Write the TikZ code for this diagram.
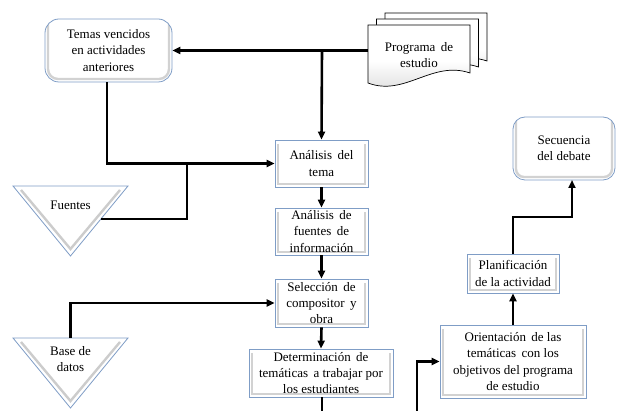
\documentclass[tikz,border=0pt]{standalone}
\usepackage{fontspec}
\setmainfont{Liberation Serif}
\usetikzlibrary{arrows.meta}
\definecolor{bord}{HTML}{7F9DC6}
\tikzset{
  bev/.style={path picture={\draw[gray!35,line width=2.4pt,rounded corners=#1]
      ([shift={(3pt,-4pt)}]path picture bounding box.north west) --
      ([shift={(3pt,3pt)}]path picture bounding box.south west) --
      ([shift={(-3pt,3pt)}]path picture bounding box.south east) --
      ([shift={(-3pt,-4pt)}]path picture bounding box.north east);}},
  bev/.default=0pt,
  box/.style={draw=bord, line width=0.8pt, fill=white, align=center, inner sep=0pt,
      font=\fontsize{13}{16.3}\selectfont, bev},
  rbox/.style={box, rounded corners=14pt, bev=10pt},
  txt/.style={align=center, inner sep=0pt, font=\fontsize{13}{16.3}\selectfont},
  conn/.style={line width=2.6pt, line join=miter, -{Triangle[length=8pt,width=7pt]}},
  plain/.style={line width=2.6pt, line join=miter},
  docshape/.style={draw=black, line width=0.7pt, top color=white, bottom color=gray!30, middle color=white},
  tri/.style={draw=bord, line width=0.8pt, fill=white},
  trib/.style={draw=gray!40, line width=2.4pt}
}
\begin{document}
\begin{tikzpicture}[x=1pt,y=-1pt]
\useasboundingbox (0,0) rectangle (619,411);

% Program documents (stacked)
\foreach \dx/\dy in {17/-12, 8.5/-6, 0/0}{
  \begin{scope}[shift={(\dx,\dy)}]
    \path[docshape] (368,25) -- (470,25) -- (470,73)
      .. controls (432,60) and (405,97) .. (368,83) -- cycle;
  \end{scope}
}
\node[txt] (prog) at (419,55) {Programa\, de\\estudio};
\coordinate (pl) at (368,50.5);

% Temas vencidos
\node[rbox, minimum width=127pt, minimum height=63pt] (temas) at (108.5,50.5)
  {Temas vencidos\\en actividades\\anteriores};

% main column
\node[box, minimum width=93pt, minimum height=47pt] (a1) at (321.5,163.5) {Análisis\, del\\tema};
\node[box, minimum width=93pt, minimum height=47pt] (a2) at (321.5,231.5) {Análisis\, de\\fuentes\, de\\información};
\node[box, minimum width=93pt, minimum height=48pt] (a3) at (321.5,303) {Selección\, de\\compositor\, y\\obra};
\node[box, minimum width=144pt, minimum height=48pt] (a4) at (321,373) {Determinación\, de\\temáticas\, a trabajar por\\los estudiantes};

% right column
\node[box, minimum width=146pt, minimum height=73pt] (or) at (513,361.5)
  {Orientación\, de las\\temáticas\, con los\\objetivos del programa\\de estudio};
\node[box, minimum width=92pt, minimum height=39pt] (pla) at (513,273.5) {Planificación\\de la actividad};
\node[rbox, rounded corners=12pt, bev=8pt, minimum width=102pt, minimum height=63pt] (sec) at (564,148.5)
  {Secuencia\\del debate};

% Triangles
\coordinate (f1) at (13,186); \coordinate (f2) at (128,186); \coordinate (f3) at (70.5,256);
\path[tri] (f1) -- (f2) -- (f3) -- cycle;
\draw[trib] (21,190) -- (70.5,249) -- (120,190);
\node[txt] (fuentes) at (70.5,205) {Fuentes};

\coordinate (b1) at (13,338); \coordinate (b2) at (128,338); \coordinate (b3) at (70.5,408);
\path[tri] (b1) -- (b2) -- (b3) -- cycle;
\draw[trib] (21,342) -- (70.5,401) -- (120,342);
\node[txt] (base) at (70.5,359) {Base de\\datos};

% connectors
\coordinate (j0) at (322,50.5);
\draw[conn] (pl) -- (temas.east);
\draw[conn] (j0) -- (a1.north);

\coordinate (t1) at (107,163.5);
\draw[conn] (temas.south -| t1) -- (t1) -- (a1.west);

\coordinate (fr) at (101,219);
\coordinate (j1) at (187,163.5);
\draw[plain] (fr) -- (j1 |- fr) -- (j1);

\draw[conn] (a1.south) -- (a2.north);
\draw[conn] (a2.south) -- (a3.north);
\draw[conn] (a3.south) -- (a4.north);
\coordinate (dout) at (322,411);
\draw[plain] (a4.south -| dout) -- (dout);

\coordinate (btop) at (70.5,338);
\draw[conn] (btop) -- (btop |- a3.west) -- (a3.west);

\coordinate (oin) at (417,411);
\draw[conn] (oin) -- (oin |- or.west) -- (or.west);

\draw[conn] (or.north) -- (pla.south);
\coordinate (k1) at (513,217);
\draw[conn] (pla.north) -- (k1) -- (k1 -| 572,0) -- (572,180);
\end{tikzpicture}
\end{document}
